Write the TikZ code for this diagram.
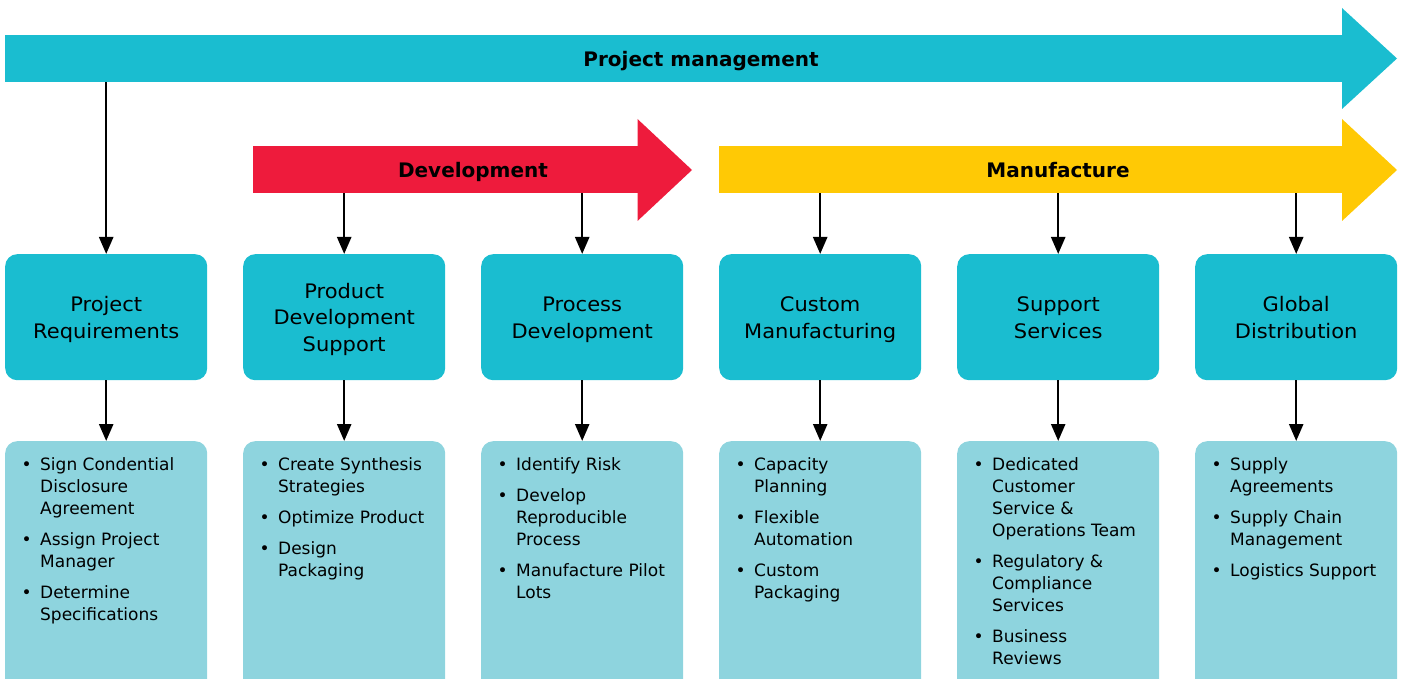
\documentclass[tikz,border=0pt]{standalone}
\usepackage{fontspec}
\setmainfont{DejaVu Sans}
\newfontfamily\titlefont[FakeStretch=1.05]{DejaVu Sans}
\newfontfamily\barfont{DejaVu Sans Bold}
\usetikzlibrary{arrows.meta}
\definecolor{pmteal}{RGB}{26,189,208}
\definecolor{devred}{RGB}{238,27,60}
\definecolor{manyellow}{RGB}{255,201,5}
\definecolor{lightteal}{RGB}{142,212,222}
\newcommand{\itemgap}{\\[9pt]}
\newcommand{\bul}{\hspace{0.3pt}\textbullet}
\newcommand{\tlines}[1]{\raisebox{-2.3pt}[\height][\depth]{\begin{tabular}{@{}c@{}}#1\end{tabular}}}
\tikzset{
  barbody/.style={draw=none, inner sep=0pt, minimum height=47pt, anchor=north west},
  barlabel/.style={font=\fontsize{20}{24}\selectfont\barfont, inner sep=0pt, anchor=base},
  titlebox/.style={rectangle, rounded corners=12pt, fill=pmteal, minimum width=202pt, minimum height=126pt, font=\fontsize{20}{26.5}\selectfont\titlefont, anchor=north west, inner sep=0pt},
  detailbox/.style={rectangle, rounded corners=12pt, fill=lightteal, minimum width=202pt, minimum height=270pt, anchor=north west, inner sep=0pt},
  listtext/.style={anchor=base west, inner sep=0pt, font=\fontsize{17}{22}\selectfont},
  conn/.style={-{Triangle[width=14pt,length=17pt]}, line width=2.5pt, black}
}
\begin{document}
\begin{tikzpicture}[x=1pt,y=-1pt]
\useasboundingbox (0,0) rectangle (1403,679);
\clip (0,0) rectangle (1403,679);

% Big arrows
\node[barbody, fill=pmteal, minimum width=1338pt] (pmbar) at (5,35) {};
\fill[pmteal] (1342,35) -- (1342,8) -- (1397,58.5) -- (1342,109) -- (1342,82) -- cycle;
\node[barlabel] (pmlabel) at (701,67) {Project management};

\node[barbody, fill=devred, minimum width=385pt] (devbar) at (253,146) {};
\fill[devred] (637.5,146) -- (637.5,119) -- (692,170) -- (637.5,221) -- (637.5,194) -- cycle;
\node[barlabel] (devlabel) at (473,177.5) {Development};

\node[barbody, fill=manyellow, minimum width=624pt] (manbar) at (719,146) {};
\fill[manyellow] (1342,146) -- (1342,119) -- (1397,170) -- (1342,221) -- (1342,194) -- cycle;
\node[barlabel] (manlabel) at (1058,177.5) {Manufacture};

% Title boxes
\node[titlebox] (t1) at (5,254) {\tlines{Project\\Requirements}};
\node[titlebox] (t2) at (243,254) {\tlines{Product\\Development\\Support}};
\node[titlebox] (t3) at (481,254) {\tlines{Process\\Development}};
\node[titlebox] (t4) at (719,254) {\tlines{Custom\\Manufacturing}};
\node[titlebox] (t5) at (957,254) {\tlines{Support\\Services}};
\node[titlebox] (t6) at (1195,254) {\tlines{Global\\Distribution}};

% Detail boxes
\node[detailbox] (d1) at (5,441) {};
\node[detailbox] (d2) at (243,441) {};
\node[detailbox] (d3) at (481,441) {};
\node[detailbox] (d4) at (719,441) {};
\node[detailbox] (d5) at (957,441) {};
\node[detailbox] (d6) at (1195,441) {};

% Lists
\node[listtext] (l1) at (21,470) {\begin{tabular}[t]{@{}p{19pt}@{}l@{}}
\bul & Sign Condential\\ & Disclosure\\ & Agreement\itemgap
\bul & Assign Project\\ & Manager\itemgap
\bul & Determine\\ & Specifications
\end{tabular}};
\node[listtext] (l2) at (259,470) {\begin{tabular}[t]{@{}p{19pt}@{}l@{}}
\bul & Create Synthesis\\ & Strategies\itemgap
\bul & Optimize Product\itemgap
\bul & Design\\ & Packaging
\end{tabular}};
\node[listtext] (l3) at (497,470) {\begin{tabular}[t]{@{}p{19pt}@{}l@{}}
\bul & Identify Risk\itemgap
\bul & Develop\\ & Reproducible\\ & Process\itemgap
\bul & Manufacture Pilot\\ & Lots
\end{tabular}};
\node[listtext] (l4) at (735,470) {\begin{tabular}[t]{@{}p{19pt}@{}l@{}}
\bul & Capacity\\ & Planning\itemgap
\bul & Flexible\\ & Automation\itemgap
\bul & Custom\\ & Packaging
\end{tabular}};
\node[listtext] (l5) at (973,470) {\begin{tabular}[t]{@{}p{19pt}@{}l@{}}
\bul & Dedicated\\ & Customer\\ & Service \&\\ & Operations Team\itemgap
\bul & Regulatory \&\\ & Compliance\\ & Services\itemgap
\bul & Business\\ & Reviews
\end{tabular}};
\node[listtext] (l6) at (1211,470) {\begin{tabular}[t]{@{}p{19pt}@{}l@{}}
\bul & Supply\\ & Agreements\itemgap
\bul & Supply Chain\\ & Management\itemgap
\bul & Logistics Support
\end{tabular}};

% Connectors
\draw[conn] (pmbar.south -| t1.north) -- (t1.north);
\draw[conn] (devbar.south -| t2.north) -- (t2.north);
\draw[conn] (devbar.south -| t3.north) -- (t3.north);
\draw[conn] (manbar.south -| t4.north) -- (t4.north);
\draw[conn] (manbar.south -| t5.north) -- (t5.north);
\draw[conn] (manbar.south -| t6.north) -- (t6.north);
\foreach \i in {1,...,6}{
  \draw[conn] (t\i.south) -- (d\i.north);
}
\end{tikzpicture}
\end{document}
